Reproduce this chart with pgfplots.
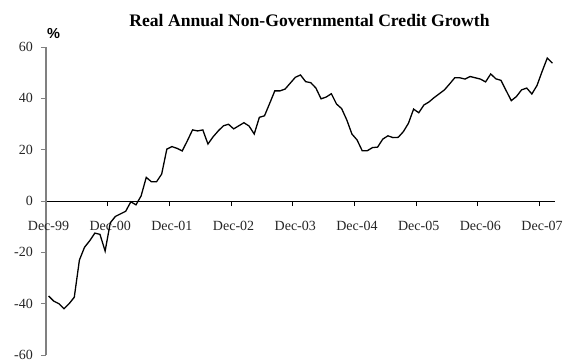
\documentclass[border=0pt]{standalone}
\usepackage{pgfplots}
\pgfplotsset{compat=1.18}
\usepackage{fontspec}
\setmainfont{Liberation Serif}
\newfontfamily\arialfont{Liberation Sans}
\pgfplotstableread{
x y
0.5 -37
1.5 -39
2.5 -40
3.5 -42
4.5 -40
5.5 -37.5
6.5 -23
7.5 -18
8.5 -15.5
9.5 -12.5
10.5 -13
11.5 -19.5
12.5 -8.5
13.5 -6
14.5 -5
15.5 -4
16.5 -0.3
17.5 -1.5
18.5 2
19.5 9.2
20.5 7.5
21.5 7.5
22.5 10.5
23.5 20.2
24.5 21.2
25.5 20.5
26.5 19.5
27.5 23.5
28.5 27.7
29.5 27.3
30.5 27.7
31.5 22.2
32.5 25
33.5 27.3
34.5 29.3
35.5 29.9
36.5 28.1
37.5 29.3
38.5 30.5
39.5 29.2
40.5 26.1
41.5 32.6
42.5 33.2
43.5 38
44.5 42.9
45.5 42.9
46.5 43.6
47.5 45.9
48.5 48.2
49.5 49.1
50.5 46.5
51.5 46.1
52.5 44
53.5 39.8
54.5 40.5
55.5 41.8
56.5 37.8
57.5 36
58.5 31.6
59.5 26.1
60.5 23.8
61.5 19.6
62.5 19.6
63.5 20.8
64.5 21
65.5 24.1
66.5 25.4
67.5 24.7
68.5 24.8
69.5 27
70.5 30.3
71.5 35.8
72.5 34.4
73.5 37.4
74.5 38.6
75.5 40.3
76.5 41.8
77.5 43.3
78.5 45.6
79.5 48
80.5 48
81.5 47.5
82.5 48.5
83.5 48
84.5 47.5
85.5 46.4
86.5 49.5
87.5 47.6
88.5 47
89.5 43
90.5 39.1
91.5 40.7
92.5 43.3
93.5 44
94.5 41.7
95.5 45
96.5 50.5
97.5 55.7
98.5 53.7
}\credit
\begin{document}
\begin{tikzpicture}
\path[use as bounding box] (0,0) rectangle (565pt,360pt);
\begin{axis}[
  at={(46pt,5pt)}, anchor=south west,
  scale only axis, width=509pt, height=308pt,
  xmin=0, xmax=99, ymin=-60, ymax=60,
  axis x line=middle, axis y line=left,
  axis line style={-},
  x axis line style={black, line width=0.9pt},
  y axis line style={gray, line width=1.4pt},
  xtick={0,12,...,96},
  xticklabels={Dec-99,Dec-00,Dec-01,Dec-02,Dec-03,Dec-04,Dec-05,Dec-06,Dec-07},
  ytick={-60,-40,...,60},
  yticklabels={-60,-40,-20,0,20,40,60},
  hide obscured x ticks=false, hide obscured y ticks=false,
  major tick length=5pt,
  xtick style={black, line width=0.8pt, yshift=-2.5pt},
  ytick style={gray, line width=0.8pt, xshift=-2.5pt},
  tick label style={font=\fontsize{14}{16}\selectfont, text=black!85},
  xticklabel style={anchor=base, yshift=-27pt, xshift=2.5pt, inner sep=0pt},
  yticklabel style={anchor=east, xshift=-10.5pt, inner sep=0pt},
  clip=false,
]
\addplot[black, line width=1.3pt] table[x=x,y=y] {\credit};
\end{axis}
\node[font=\fontsize{17.6}{20}\selectfont\bfseries, anchor=base] at (309.5pt,334pt) {Real Annual Non-Governmental Credit Growth};
\node[font=\fontsize{14.5}{16}\selectfont\arialfont\bfseries, anchor=base] at (53.5pt,322pt) {\%};
\end{tikzpicture}
\end{document}
